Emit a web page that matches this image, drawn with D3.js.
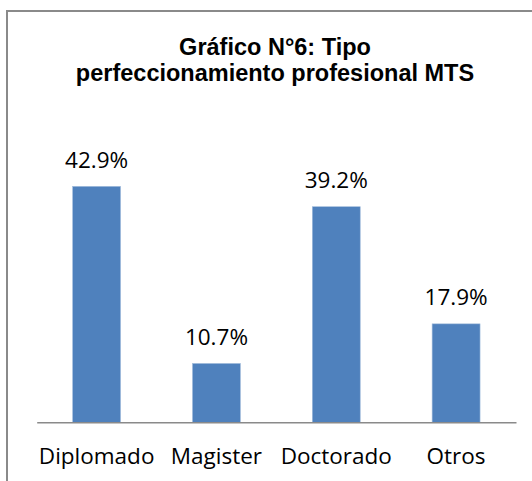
<!DOCTYPE html>
<html>
<head>
<meta charset="utf-8">
<script src="https://cdn.jsdelivr.net/npm/d3@7/dist/d3.min.js"></script>
<style>
  html, body { margin: 0; padding: 0; background: #fff; }
  svg { display: block; }
</style>
</head>
<body>
<svg id="chart" width="532" height="481"></svg>
<script>
// data
const categories = ['Diplomado', 'Magister', 'Doctorado', 'Otros'];
const values = [42.9, 10.7, 39.2, 17.9];
const titleLines = ['Gráfico N°6: Tipo', 'perfeccionamiento profesional MTS'];

const W = 532, H = 481;
const svg = d3.select('#chart');

// chart frame (clipped at right and bottom)
svg.append('rect')
  .attr('x', 7).attr('y', 11)
  .attr('width', W).attr('height', H)
  .attr('fill', '#fff')
  .attr('stroke', '#8a8a8a')
  .attr('stroke-width', 2);

// title
svg.append('g').selectAll('text')
  .data(titleLines)
  .join('text')
  .attr('x', 275)
  .attr('y', (d, i) => 55 + i * 26)
  .attr('text-anchor', 'middle')
  .attr('font-family', '"Liberation Sans", Arial, sans-serif')
  .attr('font-weight', 700)
  .attr('font-size', 23.5)
  .attr('fill', '#000')
  .text(d => d);

const x = d3.scaleBand()
  .domain(categories)
  .range([36.7, 516])
  .paddingInner(0.6)
  .paddingOuter(0.3);

const y = d3.scaleLinear()
  .domain([0, 50])
  .range([422.3, 147.3]);

// bars
svg.append('g').selectAll('rect')
  .data(values)
  .join('rect')
  .attr('x', (d, i) => x(categories[i]))
  .attr('y', d => y(d))
  .attr('width', x.bandwidth())
  .attr('height', d => y(0) - y(d))
  .attr('fill', '#4f81bd')
  .attr('stroke', '#a3bddc')
  .attr('stroke-width', 0.6);

// value labels
svg.append('g').selectAll('text')
  .data(values)
  .join('text')
  .attr('x', (d, i) => x(categories[i]) + x.bandwidth() / 2)
  .attr('y', d => y(d) - 18.4)
  .attr('text-anchor', 'middle')
  .attr('font-family', '"Open Sans", sans-serif')
  .attr('font-size', 22.5)
  .attr('fill', '#000')
  .text(d => d.toFixed(1) + '%');

// category axis
const axis = svg.append('g')
  .attr('transform', `translate(0,${y(0)})`)
  .call(d3.axisBottom(x).tickSize(0).tickPadding(0));
axis.select('.domain').attr('stroke', '#8a8a8a').attr('stroke-width', 1.5);
axis.selectAll('text')
  .attr('dy', null)
  .attr('y', 42)
  .attr('font-family', '"Open Sans", sans-serif')
  .attr('font-size', 22.5)
  .attr('fill', '#000');
</script>
</body>
</html>
